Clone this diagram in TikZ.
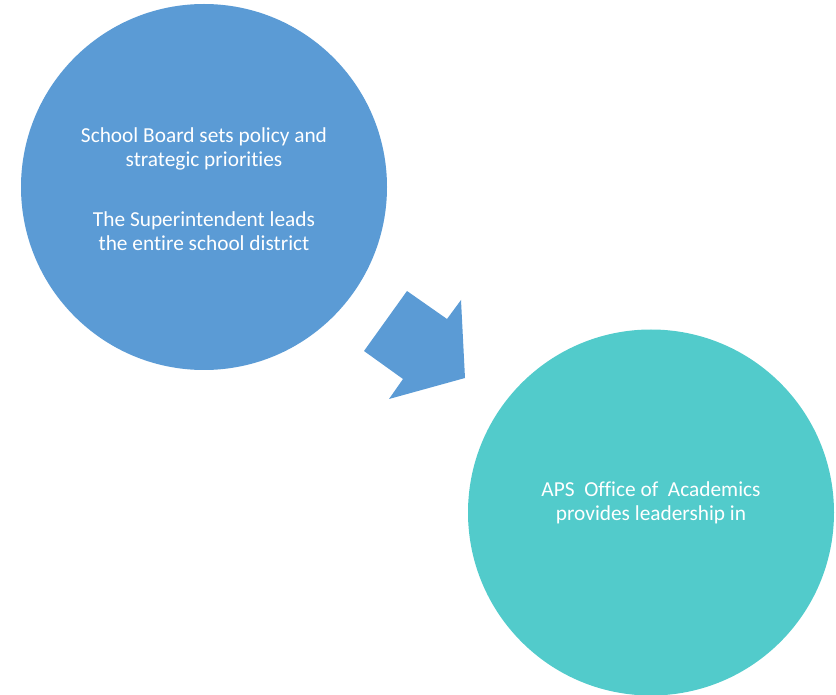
\documentclass[tikz,border=0pt]{standalone}
\usepackage{fontspec}
\setmainfont{Carlito}[RawFeature={-liga;-clig}]
\usetikzlibrary{positioning}
\definecolor{boardblue}{HTML}{5B9BD5}
\definecolor{officeteal}{HTML}{52CBCB}
\begin{document}
\begin{tikzpicture}[x=0.75pt,y=-0.75pt,inner sep=0pt,outer sep=0pt,
disc/.style={circle,minimum size=274.5pt},
txt/.style={align=center,text=white,font=\fontsize{16pt}{18pt}\selectfont}]
\useasboundingbox (0,0) rectangle (836,695);
\node[disc,fill=boardblue] (board) at (204,187) {};
\node[disc,fill=officeteal] (office) at (651,512.5) {};
\node[txt] (boardtxt) at ([yshift=-1.5pt]board.center) {School Board sets policy and\\strategic priorities\\[27pt]The Superintendent leads\\the entire school district};
\node[txt] (officetxt) at ([yshift=7.5pt]office.center) {APS~ Office of~ Academics\\provides leadership in};
% block arrow between the two circles
\fill[boardblue] (407,291) -- (447,319) -- (461,300) -- (465,378) -- (389,399) -- (403,379) -- (364,351) -- cycle;
\end{tikzpicture}
\end{document}
